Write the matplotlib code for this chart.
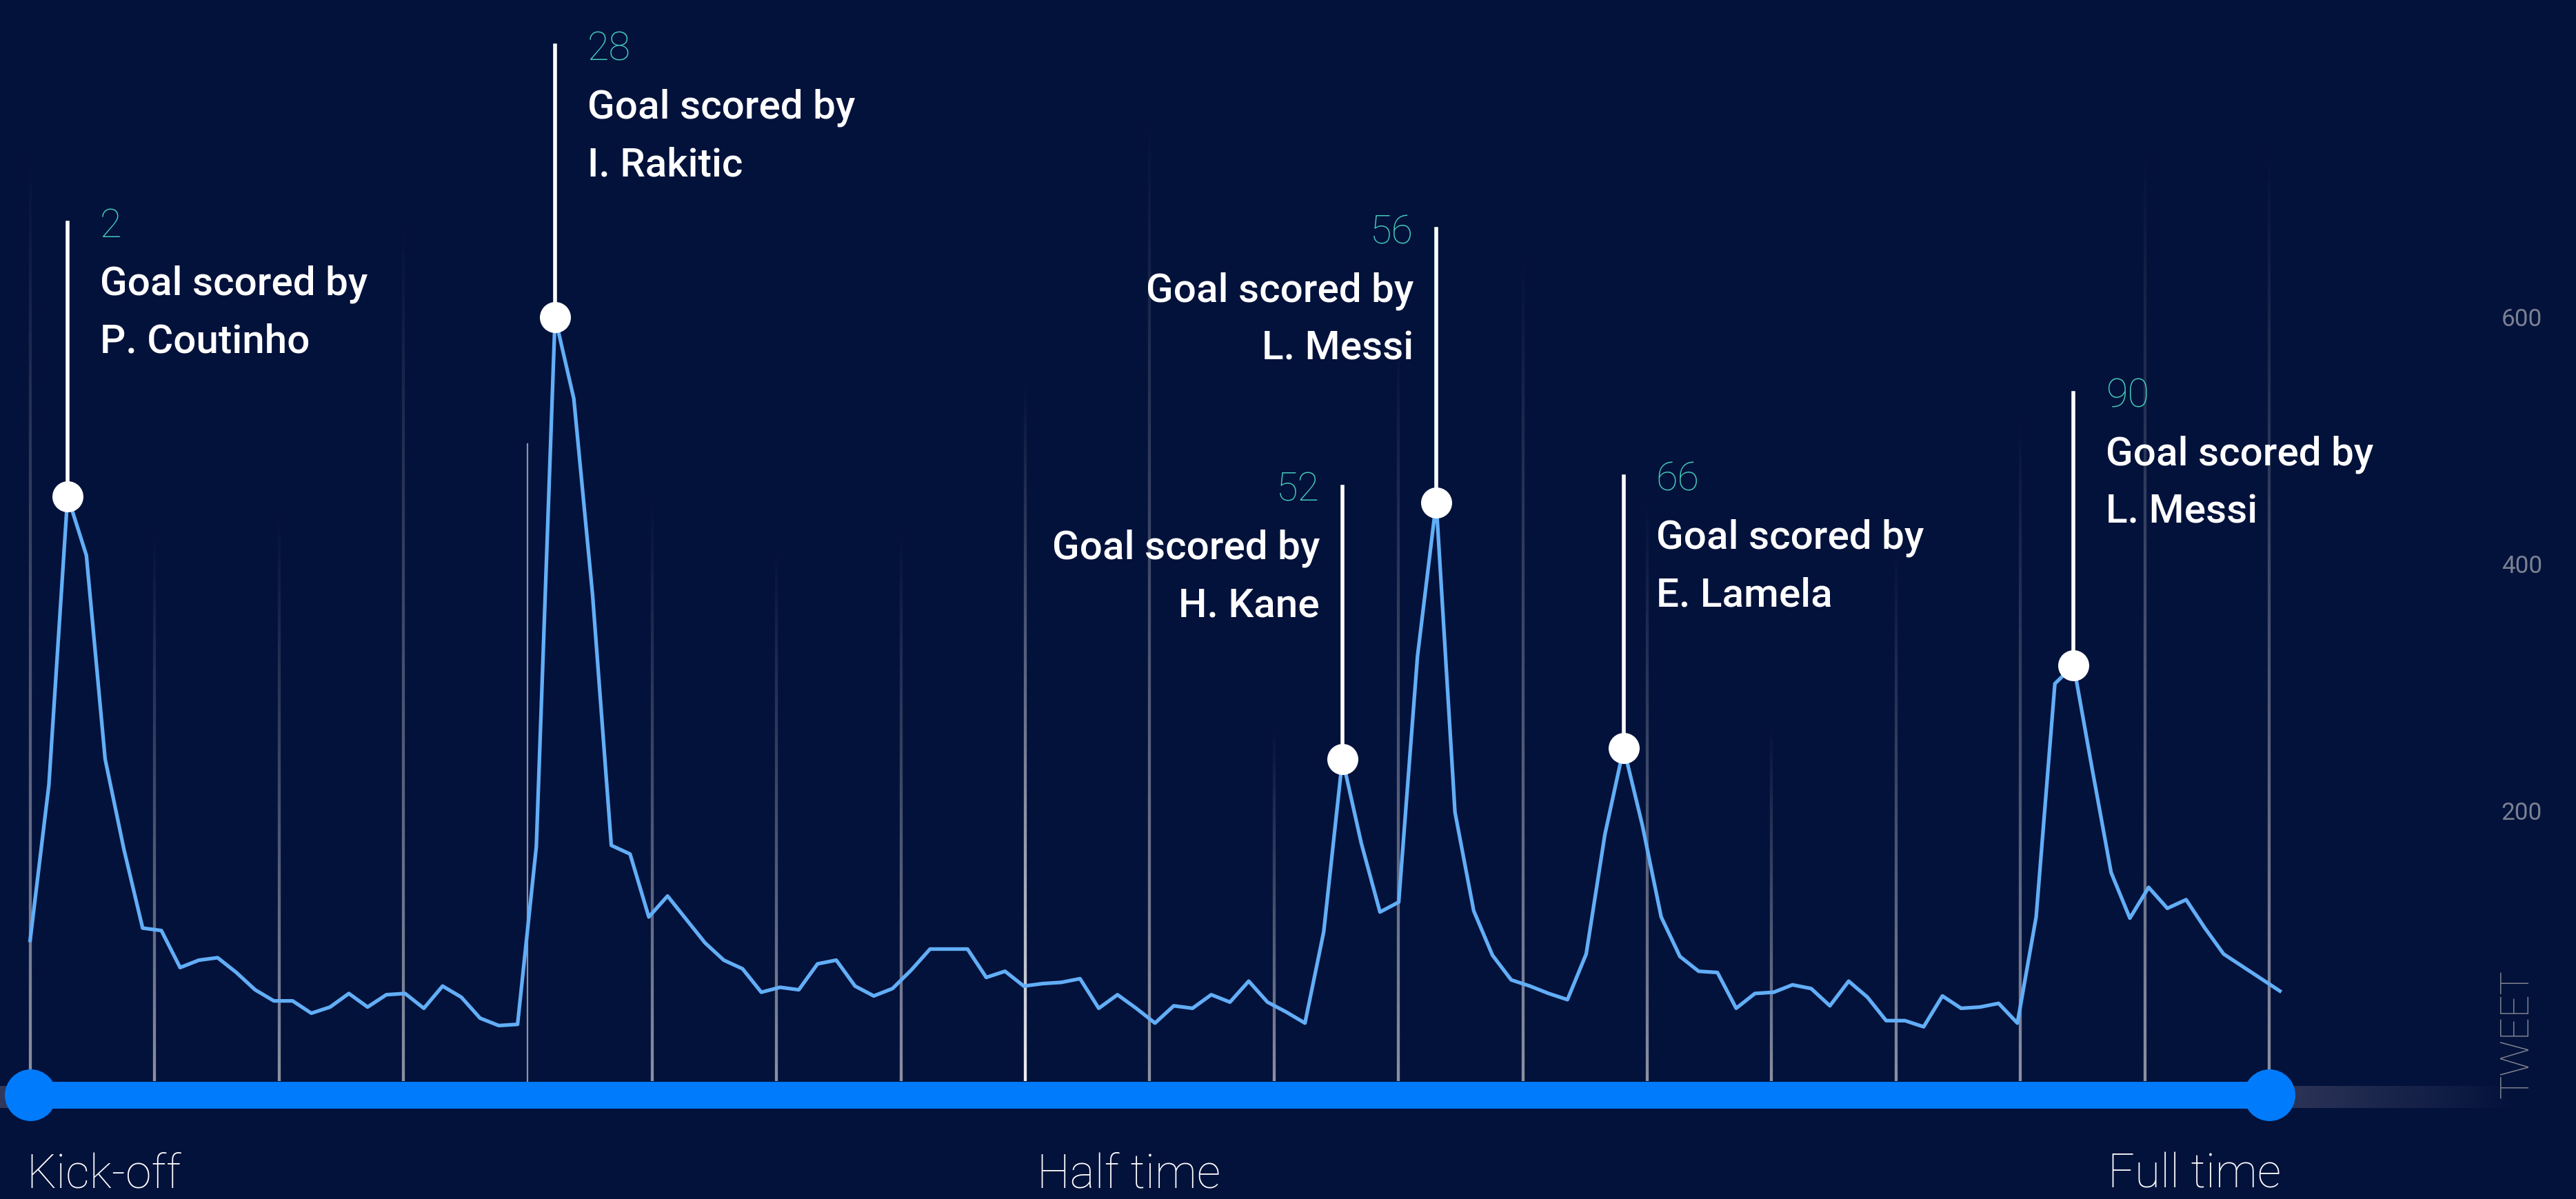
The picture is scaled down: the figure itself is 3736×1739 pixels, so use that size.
import numpy as np
import matplotlib.pyplot as plt
from matplotlib.collections import LineCollection
from matplotlib.colors import to_rgba, to_rgb

plt.rcParams['font.family'] = ['Roboto', 'DejaVu Sans']

# tweets per elapsed minute (0 = kick-off)
tweets = [95, 221, 455, 407, 242, 169, 105, 103, 73, 79,
          81, 69, 55, 46, 46, 36, 41, 52, 41, 51,
          52, 40, 58, 49, 32, 26, 27, 171, 600, 534,
          375, 172, 165, 114, 131, 112, 93, 79, 72, 53,
          57, 55, 76, 79, 58, 50, 56, 71, 88, 88,
          88, 65, 70, 58, 60, 61, 64, 40, 51, 40,
          28, 42, 40, 51, 45, 62, 45, 37, 28, 102,
          242, 174, 118, 126, 325, 450, 199, 119, 83, 63,
          58, 52, 47, 84, 181, 251, 188, 114, 82, 70,
          69, 40, 52, 53, 59, 56, 42, 62, 49, 30,
          30, 25, 50, 40, 41, 44, 28, 114, 303, 318,
          233, 150, 113, 138, 121, 128, 105, 84, 74, 64, 54]
minutes = np.arange(len(tweets))

goal_minute = [2, 28, 52, 56, 66, 90]
goal_elapsed = [2, 28, 70, 75, 85, 109]
goal_scorer = ['P. Coutinho', 'I. Rakitic', 'H. Kane', 'L. Messi', 'E. Lamela', 'L. Messi']

y_ticks = [200, 400, 600]
phase_labels = ['Kick-off', 'Half time', 'Full time']

# ---- layout (pixels of the 3736x1740 canvas) ----
W, H = 3736, 1740
X0, XS = 43.7, 27.19     # px of minute 0, px per minute
Y0, YS = 1535, 1.79      # px (from top) of 0 tweets, px per tweet

def px_x(p):
    return (p - X0) / XS

def px_y(p):
    return (Y0 - p) / YS

BG = '#03123b'
BLUE = '#007bfb'
LINE = '#62aef7'
TEAL = '#45cbbb'
GREY = '#7b8092'

label_side = ['right', 'right', 'left', 'left', 'right', 'right']
label_base_px = [344, 87, 727, 353, 712, 591]
grid_top = [740, 432, 445, 684, None, 458, 418, 432, 551, 770,
            272, 591, 658, 458, 272, 418, 525, 745, 745]

fig = plt.figure(figsize=(W / 100, H / 100), dpi=100, facecolor=BG)
ax = fig.add_axes([0, 0, 1, 1])
ax.set_facecolor(BG)
ax.axis('off')

t_end = px_x(3291)
bar_y = px_y(1589)
bar_top = px_y(1569)

# vertical fading grid lines
grid_x = np.linspace(0, t_end, len(grid_top))
for i, (gx, top) in enumerate(zip(grid_x, grid_top)):
    if top is None:
        ax.plot([gx, gx], [bar_top, px_y(645)], color='#8e93a6', lw=1.6, zorder=1)
        continue
    ys = np.linspace(top, bar_top, 90)
    segs = [[(gx, ys[k]), (gx, ys[k + 1])] for k in range(len(ys) - 1)]
    base = '#ececf0' if i == 8 else '#8c90a2'
    cols = [to_rgba(base, a) for a in np.linspace(0, 1, len(segs)) ** 1.1]
    ax.add_collection(LineCollection(segs, colors=cols, linewidths=3.1,
                                     capstyle='butt', zorder=1))

# grey track under the timeline, fading out on the right
ax.fill_between([px_x(0), t_end], px_y(1608), px_y(1576), color='#30375a', lw=0, zorder=2)
grad = np.ones((1, 256, 4))
grad[..., :3] = to_rgb('#30375a')
grad[0, :, 3] = np.linspace(1, 0, 256)
ax.imshow(grad, extent=[t_end, px_x(3652), px_y(1608), px_y(1576)],
          aspect='auto', interpolation='bilinear', zorder=2)

# blue timeline
ax.plot([0, t_end], [bar_y, bar_y], color=BLUE, lw=28, solid_capstyle='butt', zorder=3)
ax.plot([0, t_end], [bar_y, bar_y], 'o', ms=54, color=BLUE, mew=0, zorder=3)

# tweet line
ax.plot(minutes, tweets, color=LINE, lw=3.8, zorder=5)

# goal annotations
for gm, el, name, side, base in zip(goal_minute, goal_elapsed, goal_scorer,
                                    label_side, label_base_px):
    val = tweets[el]
    yb = px_y(base)
    ax.plot([el, el], [val, yb + 20 / YS], color='white', lw=4, zorder=6)
    ax.plot(el, val, 'o', ms=32.4, color='white', mew=0, zorder=7)
    if side == 'right':
        xt, ha = el + 47 / XS, 'left'
    else:
        xt, ha = el - 33 / XS, 'right'
    ax.text(xt, yb, str(gm), color=TEAL, fontsize=41.5, fontweight='light',
            ha=ha, va='baseline', zorder=8)
    ax.text(xt, yb - 84 / YS, 'Goal scored by', color='white', fontsize=42,
            fontweight='medium', ha=ha, va='baseline', zorder=8)
    ax.text(xt, yb - 168 / YS, name, color='white', fontsize=42,
            fontweight='medium', ha=ha, va='baseline', zorder=8)

# phase labels under the timeline
for lab, xp, ha in zip(phase_labels, [38, 1504, 3308], ['left', 'left', 'right']):
    ax.text(px_x(xp), px_y(1723), lab, color='white', fontsize=49,
            fontweight='light', ha=ha, va='baseline')

# y tick labels on the right
for v in y_ticks:
    ax.text(px_x(3687), v - 12.5 / YS, str(v), color=GREY, fontsize=25.3,
            ha='right', va='baseline')
ax.text(px_x(3651), px_y(1593), 'TWEET', color='#80838f', fontsize=41.5,
        fontweight='light', rotation=90, ha='center', va='bottom')

ax.set_xlim(px_x(0), px_x(W))
ax.set_ylim(px_y(H), px_y(0))

fig.savefig('out.png', dpi=100, facecolor=BG)
